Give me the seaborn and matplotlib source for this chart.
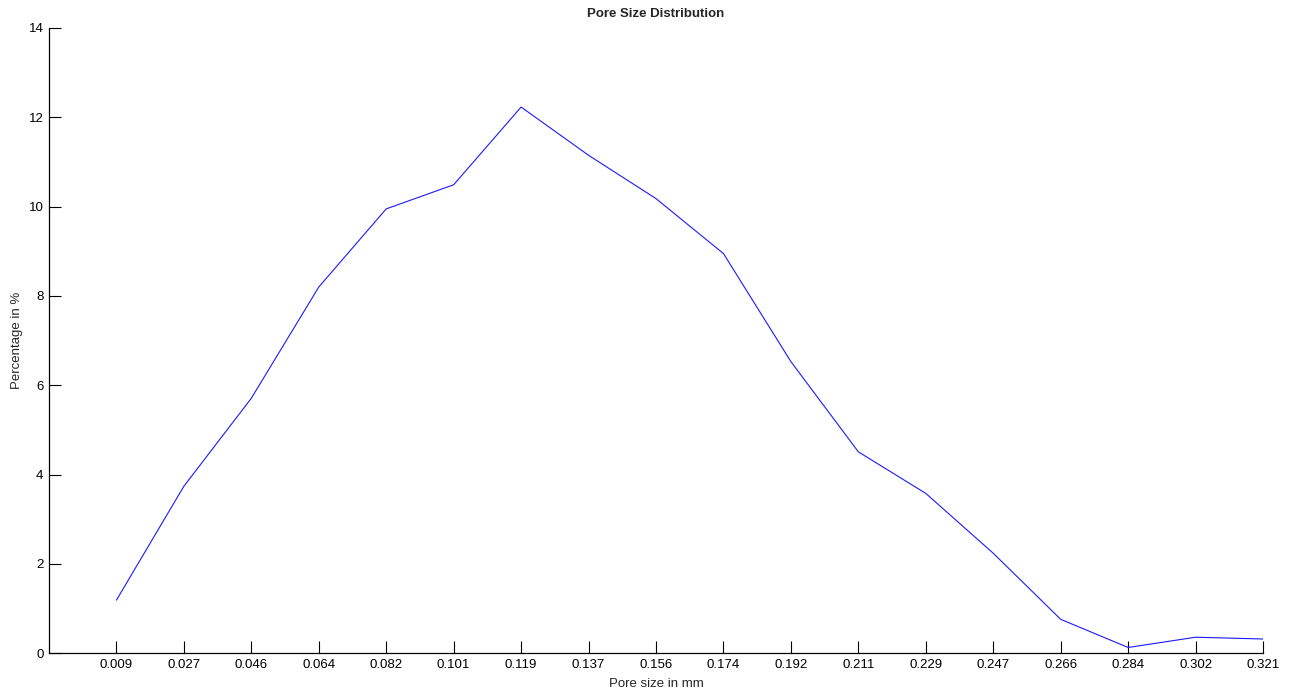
import matplotlib
matplotlib.use("Agg")
import matplotlib.pyplot as plt
import seaborn as sns
import pandas as pd

pore_sizes = ["0.009", "0.027", "0.046", "0.064", "0.082", "0.101", "0.119",
              "0.137", "0.156", "0.174", "0.192", "0.211", "0.229", "0.247",
              "0.266", "0.284", "0.302", "0.321"]
percentages = [1.19, 3.74, 5.71, 8.20, 9.95, 10.49, 12.23, 11.15, 10.18,
               8.95, 6.53, 4.51, 3.58, 2.24, 0.76, 0.13, 0.36, 0.32]
y_ticks = [0, 2, 4, 6, 8, 10, 12, 14]

sns.set_style("white")
plt.rcParams["font.family"] = ["Liberation Sans", "DejaVu Sans"]

df = pd.DataFrame({"size": pore_sizes, "pct": percentages})

fig = plt.figure(figsize=(12.92, 6.93), dpi=100)
ax = fig.add_axes([0.0379, 0.0573, 0.9397, 0.9023])

sns.lineplot(data=df, x="size", y="pct", ax=ax, color="#1a1aff",
             linewidth=0.8, sort=False)

ax.set_xlim(-1, len(pore_sizes) - 1)
ax.set_ylim(0, 14)
ax.set_yticks(y_ticks)
ax.set_xticks(range(len(pore_sizes)))
ax.set_xticklabels(pore_sizes)

for side in ("top", "right"):
    ax.spines[side].set_visible(False)
for side in ("left", "bottom"):
    ax.spines[side].set_color("black")
    ax.spines[side].set_linewidth(0.9)

ax.tick_params(axis="both", direction="in", length=8.5, width=0.8,
               colors="black", labelsize=9.5, pad=4)
ax.tick_params(axis="y", left=True)
ax.tick_params(axis="x", bottom=True)

ax.set_title("Pore Size Distribution", fontsize=9.5, fontweight="bold", pad=8)
ax.set_xlabel("Pore size in mm", fontsize=9.5, labelpad=5)
ax.set_ylabel("Percentage in %", fontsize=9.5, labelpad=4)

fig.savefig("out.png", dpi=100, facecolor="white")
